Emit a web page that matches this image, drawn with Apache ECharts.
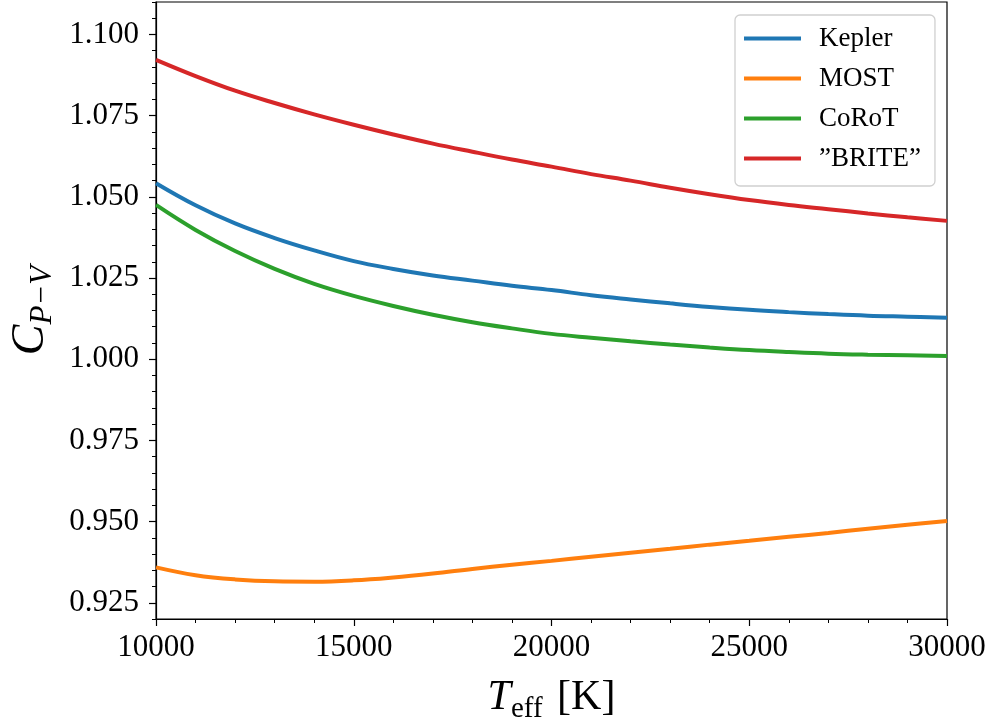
<!DOCTYPE html>
<html>
<head>
<meta charset="utf-8">
<script src="https://cdn.jsdelivr.net/npm/echarts@6/dist/echarts.min.js"></script>
<style>
  html, body { margin: 0; padding: 0; background: #fff; }
  #chart { width: 992px; height: 724px; }
</style>
</head>
<body>
<div id="chart"></div>
<script>
// effective temperature grid [K]
var temps = [10000, 11000, 12000, 13000, 14000, 15000, 16000, 17000, 18000, 19000, 20000,
             21000, 22000, 23000, 24000, 25000, 26000, 27000, 28000, 29000, 30000];

var kepler = [1.0542, 1.0474, 1.0418, 1.0373, 1.0335, 1.0302, 1.0278, 1.0258, 1.0242, 1.0226, 1.0213,
              1.0197, 1.0184, 1.0172, 1.0161, 1.0152, 1.0145, 1.0139, 1.0134, 1.0131, 1.0128];
var most = [0.9359, 0.9335, 0.9322, 0.9316, 0.9315, 0.9319, 0.9328, 0.9340, 0.9354, 0.9367, 0.9379,
            0.9392, 0.9404, 0.9416, 0.9429, 0.9441, 0.9453, 0.9465, 0.9478, 0.9490, 0.9502];
var corot = [1.0475, 1.0398, 1.0333, 1.0278, 1.0232, 1.0195, 1.0164, 1.0137, 1.0114, 1.0095, 1.0078,
             1.0066, 1.0055, 1.0045, 1.0036, 1.0028, 1.0022, 1.0017, 1.0014, 1.0012, 1.0010];
var brite = [1.0922, 1.0872, 1.0827, 1.0789, 1.0754, 1.0722, 1.0692, 1.0664, 1.0639, 1.0615, 1.0593,
             1.0570, 1.0550, 1.0528, 1.0508, 1.0490, 1.0475, 1.0462, 1.0449, 1.0437, 1.0426];

var names = ['Kepler', 'MOST', 'CoRoT', '\u201dBRITE\u201d'];
var colors = ['#1f77b4', '#ff7f0e', '#2ca02c', '#d62728'];
var yTicks = [0.925, 0.950, 0.975, 1.000, 1.025, 1.050, 1.075, 1.100];

var serif = 'Liberation Serif';

function pairs(vals) {
    return temps.map(function (t, i) { return [t, vals[i]]; });
}

var chart = echarts.init(document.getElementById('chart'));

var allSeries = [kepler, most, corot, brite].map(function (vals, i) {
    return {
        name: names[i],
        type: 'line',
        data: pairs(vals),
        smooth: 0.4,
        showSymbol: false,
        lineStyle: { color: colors[i], width: 4 },
        itemStyle: { color: colors[i] },
        emphasis: { disabled: true }
    };
});

chart.setOption({
    backgroundColor: '#fff',
    animation: false,
    textStyle: { fontFamily: serif },
    grid: {
        left: 156, right: 45, top: 2, bottom: 105,
        containLabel: false,
        outerBoundsMode: 'none',
        show: true, borderColor: '#000', borderWidth: 1.2
    },
    legend: {
        orient: 'vertical',
        left: 735, top: 15,
        padding: [10, 14, 14, 9],
        itemWidth: 57, itemHeight: 4,
        itemGap: 13,
        icon: 'rect',
        borderColor: '#d0d0d0', borderWidth: 1.3, borderRadius: 5,
        backgroundColor: '#fff',
        textStyle: { fontFamily: serif, fontSize: 27, color: '#000', lineHeight: 27, padding: [0, 0, 0, 13] },
        data: names
    },
    xAxis: {
        type: 'value',
        min: 10000, max: 30000, interval: 5000,
        name: '{i|T}{s|eff}{n| [K]}',
        nameLocation: 'middle',
        nameGap: 52,
        nameTextStyle: {
            rich: {
                i: { fontFamily: serif, fontStyle: 'italic', fontSize: 42, color: '#000' },
                s: { fontFamily: serif, fontSize: 29, color: '#000', padding: [24, 0, 0, 0] },
                n: { fontFamily: serif, fontSize: 42, color: '#000', padding: [0, 0, 0, 4] }
            }
        },
        axisLine: { lineStyle: { color: '#000', width: 1.2 } },
        axisTick: { length: 7, lineStyle: { color: '#000', width: 1.2 } },
        minorTick: { show: true, splitNumber: 5, length: 4, lineStyle: { color: '#000', width: 1 } },
        axisLabel: {
            fontFamily: serif, fontSize: 31, color: '#000', margin: 13,
            formatter: function (v) { return String(v); }
        },
        splitLine: { show: false }
    },
    yAxis: [{
        type: 'value',
        min: 0.92, max: 1.11,
        name: '{i|C}{s|P\u2212V}',
        nameLocation: 'middle',
        nameGap: 95,
        nameRotate: 90,
        nameTextStyle: {
            rich: {
                i: { fontFamily: serif, fontStyle: 'italic', fontSize: 46, color: '#000' },
                s: { fontFamily: serif, fontStyle: 'italic', fontSize: 31, color: '#000', padding: [24, 0, 0, 0] }
            }
        },
        axisLine: { lineStyle: { color: '#000', width: 1.2 } },
        axisTick: { length: 7, customValues: yTicks, lineStyle: { color: '#000', width: 1.2 } },
        axisLabel: {
            customValues: yTicks,
            fontFamily: serif, fontSize: 31, color: '#000', margin: 17,
            formatter: function (v) { return v.toFixed(3); }
        },
        splitLine: { show: false }
    }, {
        // minor ticks every 0.005
        type: 'value',
        position: 'left',
        min: 0.92, max: 1.11, interval: 0.005,
        axisLine: { show: false },
        axisTick: { length: 4, lineStyle: { color: '#000', width: 1 } },
        axisLabel: { show: false },
        splitLine: { show: false }
    }],
    series: allSeries
});
</script>
</body>
</html>
